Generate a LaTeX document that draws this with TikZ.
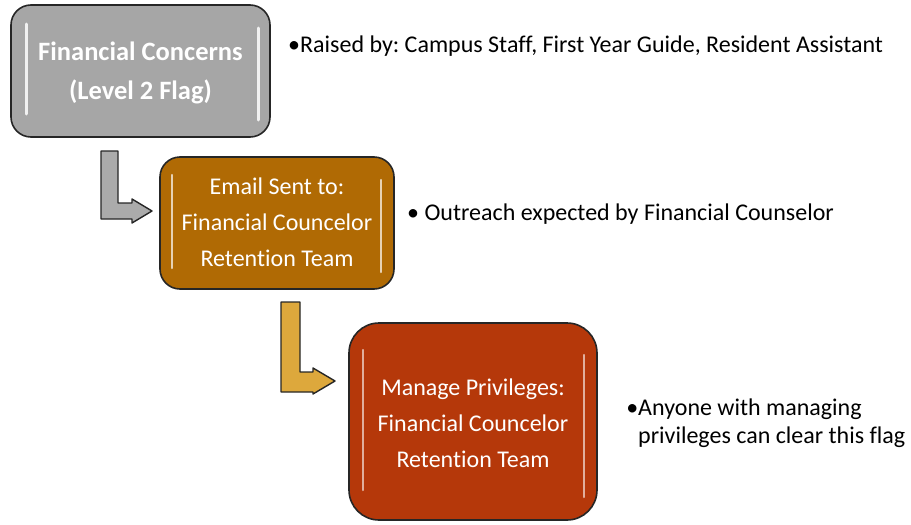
\documentclass[tikz,border=0pt]{standalone}
\usepackage{fontspec}
\setmainfont[RawFeature={-liga}]{Carlito}
\usetikzlibrary{calc}
\frenchspacing
\definecolor{grayfill}{HTML}{A6A6A6}
\definecolor{brownfill}{HTML}{B06A04}
\definecolor{rustfill}{HTML}{B5380A}
\definecolor{goldfill}{HTML}{DDA83C}
\definecolor{arrowgray}{HTML}{ABABAB}
\definecolor{edge}{HTML}{262626}
\tikzset{
  flowbox/.style={draw=edge, line width=1.6pt, rounded corners=#1},
  boxtext/.style={text=white, align=center, font=\fontsize{24}{36}\selectfont},
  sidetext/.style={text=black, anchor=base west, font=\fontsize{24}{28}\selectfont, inner sep=0pt},
  gloss/.style={white, line width=3pt, line cap=round, opacity=0.85},
  bentarrow/.style={draw=edge, line width=1.4pt, line join=round},
}
\begin{document}
\begin{tikzpicture}[x=1pt,y=-1pt]
\useasboundingbox (0,0) rectangle (911,525);

% Box 1
\filldraw[flowbox=20pt, fill=grayfill] (11,5) rectangle (270,137);
\coordinate (b1) at (140.5,72.5);
\draw[gloss] (26,24) -- (26,114);
\draw[gloss] (258,28) -- (258,120);
\node[boxtext, font=\bfseries\fontsize{26.5}{39}\selectfont] (t1) at (b1) {Financial Concerns\\(Level 2 Flag)};

% Box 2
\filldraw[flowbox=20pt, fill=brownfill] (160,157) rectangle (394,289);
\coordinate (b2) at (277,222);
\draw[gloss, line width=2.5pt, opacity=0.7] (172,175) -- (172,268);
\draw[gloss, line width=2.5pt, opacity=0.7] (381,180) -- (381,272);
\node[boxtext] (t2) at (b2) {Email Sent to:\\Financial Councelor\\Retention Team};

% Box 3
\filldraw[flowbox=30pt, fill=rustfill] (349,323) rectangle (597,520);
\coordinate (b3) at (473,423);
\draw[gloss, line width=2.5pt, opacity=0.6] (363,350) -- (363,490);
\draw[gloss, line width=2.5pt, opacity=0.6] (584,355) -- (584,497);
\node[boxtext] (t3) at (b3) {Manage Privileges:\\Financial Councelor\\Retention Team};

% Arrow 1
\filldraw[bentarrow, fill=arrowgray]
  (101,151) -- (118,151) -- (118,203) -- (132,203) -- (132,199) -- (152,211)
  -- (132,223) -- (132,219) -- (101,219) -- cycle;
\coordinate (a1) at (152,211);

% Arrow 2
\filldraw[bentarrow, fill=goldfill]
  (281,302) -- (300,302) -- (300,372) -- (313,372) -- (313,368) -- (335,381)
  -- (313,394) -- (313,392) -- (281,392) -- cycle;
\coordinate (a2) at (335,381);

% Side texts
\node[sidetext] (s1) at (288,52) {•Raised by: Campus Staff, First Year Guide, Resident Assistant};
\node[sidetext] (s2) at (407,220) {• Outreach expected by Financial Counselor};
\node[sidetext] (s3a) at (638,415) {\llap{•}Anyone with managing};
\node[sidetext] (s3b) at (638,443) {privileges can clear this flag};
\end{tikzpicture}
\end{document}
